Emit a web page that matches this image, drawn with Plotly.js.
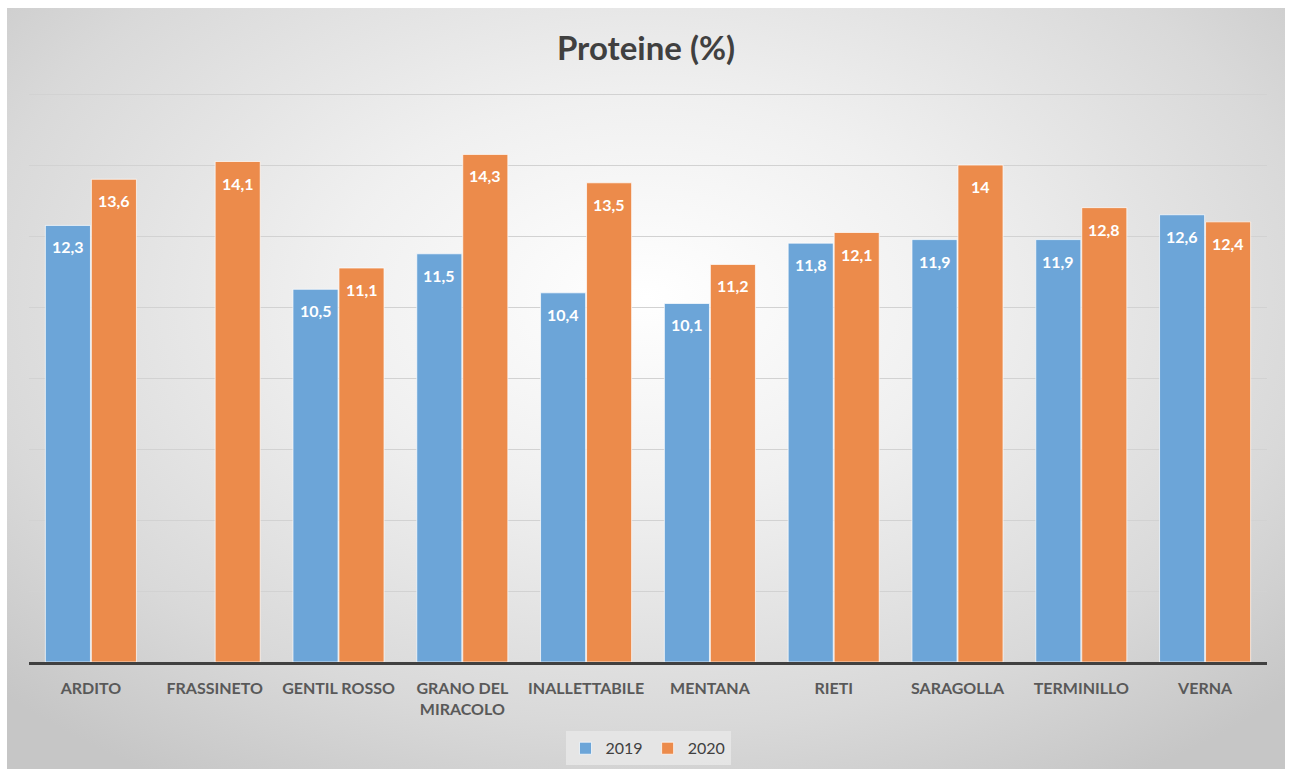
<!DOCTYPE html>
<html>
<head>
<meta charset="utf-8">
<script src="https://cdn.plot.ly/plotly-3.0.1.min.js"></script>
<style>
  html, body { margin: 0; padding: 0; background: #ffffff; }
  #bg { position: absolute; left: 7px; top: 8px; width: 1278px; height: 761px;
        background: radial-gradient(ellipse 70% 75% at 50% 38%, #ffffff 0%, #f0f0f0 35%, #d9d9d9 75%, #c6c6c6 100%); }
  #chart { position: absolute; left: 0; top: 0; width: 1292px; height: 769px; }
</style>
</head>
<body>
<div id="bg"></div>
<div id="chart"></div>
<script>
const categories = ["ARDITO", "FRASSINETO", "GENTIL ROSSO", "GRANO DEL MIRACOLO", "INALLETTABILE", "MENTANA", "RIETI", "SARAGOLLA", "TERMINILLO", "VERNA"];
const tickLabels = ["ARDITO", "FRASSINETO", "GENTIL ROSSO", "GRANO DEL<br>MIRACOLO", "INALLETTABILE", "MENTANA", "RIETI", "SARAGOLLA", "TERMINILLO", "VERNA"];
const values2019 = [12.3, null, 10.5, 11.5, 10.4, 10.1, 11.8, 11.9, 11.9, 12.6];
const values2020 = [13.6, 14.1, 11.1, 14.3, 13.5, 11.2, 12.1, 14.0, 12.8, 12.4];

const fmt = v => v === null ? "" : String(v).replace(".", ",");

const blue = "#6ca5d8";
const orange = "#ec8b4b";
const baseFont = "Lato, 'Open Sans', sans-serif";
const labelFont = {family: baseFont, size: 16, color: "#ffffff", weight: 700};

const traces = [
  {type: "bar", name: "2019", x: categories, y: values2019,
   marker: {color: blue, line: {color: "rgba(255,255,255,0.7)", width: 1}},
   hoverinfo: "y"},
  {type: "bar", name: "2020", x: categories, y: values2020,
   marker: {color: orange, line: {color: "rgba(255,255,255,0.7)", width: 1}},
   hoverinfo: "y"}
];

const annotations = [];
[values2019, values2020].forEach((arr, s) => {
  arr.forEach((v, i) => {
    if (v === null) return;
    annotations.push({x: categories[i], y: v, xref: "x", yref: "y", text: fmt(v),
      showarrow: false, yanchor: "top", yshift: -10, xshift: s === 0 ? -23 : 23,
      font: labelFont});
  });
});

const layout = {
  width: 1292, height: 769,
  paper_bgcolor: "rgba(0,0,0,0)", plot_bgcolor: "rgba(0,0,0,0)",
  margin: {l: 29, r: 25, t: 93, b: 107, autoexpand: false},
  title: {text: "Proteine (%)", x: 0.5, xanchor: "center", y: 0.937, yanchor: "middle",
          font: {family: baseFont, size: 33, color: "#404040", weight: 700}},
  barmode: "group", bargap: 0.257, bargroupgap: 0.02,
  xaxis: {type: "category", tickvals: categories, ticktext: tickLabels, automargin: false,
          showline: true, linecolor: "#404040", linewidth: 3, ticks: "", ticklabelstandoff: 10,
          tickfont: {family: baseFont, size: 16, color: "#595959", weight: 700},
          showgrid: false, fixedrange: true},
  yaxis: {range: [0, 16.03], tickvals: [2, 4, 6, 8, 10, 12, 14, 16], showticklabels: false, showgrid: true,
          automargin: false, gridcolor: "#d2d2d2", gridwidth: 1, zeroline: false, ticks: "", fixedrange: true},
  showlegend: true,
  legend: {orientation: "h", x: 0.5, xanchor: "center", yref: "container", y: 0.049, yanchor: "top",
           bgcolor: "rgba(232,232,232,0.8)", font: {family: baseFont, size: 16, color: "#404040"},
           itemwidth: 30, traceorder: "normal"},
  annotations: annotations
};

Plotly.newPlot("chart", traces, layout, {displayModeBar: false, staticPlot: true});
</script>
</body>
</html>
